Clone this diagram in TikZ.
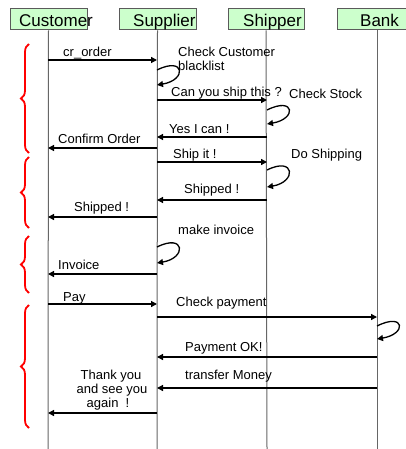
\documentclass[tikz,border=0pt]{standalone}
\usepackage{fontspec}
\setmainfont{Liberation Sans}
\usetikzlibrary{arrows.meta,decorations.pathreplacing,calc}
\definecolor{hdrfill}{RGB}{204,255,204}
\definecolor{hdrline}{RGB}{90,90,90}
\tikzset{
  hdrbox/.style={draw=hdrline,fill=hdrfill,line width=1pt,minimum height=21pt,inner sep=0pt},
  hdrtext/.style={anchor=base west,inner sep=0pt,font=\fontsize{17}{19}\selectfont},
  lifeline/.style={draw=black!60,line width=1pt},
  msg/.style={draw=black,line width=1.3pt,-{Triangle[length=6pt,width=6pt]}},
  lbl/.style={anchor=base west,inner sep=0pt,font=\fontsize{13}{15}\selectfont},
  clbl/.style={anchor=base,inner sep=0pt,font=\fontsize{13}{15}\selectfont},
  grp/.style={draw=red,line width=1.8pt,decorate,decoration={brace,amplitude=8pt}}
}
\begin{document}
\begin{tikzpicture}[x=1pt,y=-1pt]
\useasboundingbox (0,0) rectangle (406,449);
% headers
\node[hdrbox,minimum width=77pt] (custbox) at (48.5,19.5) {};
\node[hdrbox,minimum width=77pt] (suppbox) at (157.5,19.5) {};
\node[hdrbox,minimum width=76pt] (shipbox) at (266,19.5) {};
\node[hdrbox,minimum width=80pt] (bankbox) at (377,19.5) {};
\node[hdrtext] (custtxt) at (19,27) {Customer};
\node[hdrtext] (supptxt) at (133,27) {Supplier};
\node[hdrtext] (shiptxt) at (243,27) {Shipper};
\node[hdrtext] (banktxt) at (360,27) {Bank};
% lifelines
\coordinate (custend) at (48,449);
\coordinate (suppend) at (157,449);
\coordinate (shipend) at (267,449);
\coordinate (bankend) at (377,449);
\draw[lifeline] (custbox.south) -- (custend);
\draw[lifeline] (suppbox.south) -- (suppend);
\draw[lifeline] (shipbox.south) -- (shipend);
\draw[lifeline] (bankbox.south) -- (bankend);
% braces
\coordinate (b1a) at (29,153); \coordinate (b1b) at (29,44);
\coordinate (b2a) at (29,228); \coordinate (b2b) at (29,157);
\coordinate (b3a) at (29,293); \coordinate (b3b) at (29,236);
\coordinate (b4a) at (29,428); \coordinate (b4b) at (29,305);
\draw[grp] (b1a) -- (b1b);
\draw[grp] (b2a) -- (b2b);
\draw[grp] (b3a) -- (b3b);
\draw[grp] (b4a) -- (b4b);
% message end points
\coordinate (c1) at (48,60);   \coordinate (s1) at (157,60);
\coordinate (s2) at (157,100); \coordinate (h2) at (267,100);
\coordinate (h3) at (267,137); \coordinate (s3) at (157,137);
\coordinate (s4) at (157,148); \coordinate (c4) at (48,148);
\coordinate (s5) at (157,162); \coordinate (h5) at (267,162);
\coordinate (h6) at (267,200); \coordinate (s6) at (157,200);
\coordinate (s7) at (157,217); \coordinate (c7) at (48,217);
\coordinate (s8) at (157,274); \coordinate (c8) at (48,274);
\coordinate (c9) at (48,304);  \coordinate (s9) at (157,304);
\coordinate (s10) at (157,317); \coordinate (k10) at (377,317);
\coordinate (k11) at (377,357); \coordinate (s11) at (157,357);
\coordinate (k12) at (377,388); \coordinate (s12) at (157,388);
\coordinate (s13) at (157,413); \coordinate (c13) at (48,413);
\draw[msg] (c1) -- (s1);
\draw[msg] (s2) -- (h2);
\draw[msg] (h3) -- (s3);
\draw[msg] (s4) -- (c4);
\draw[msg] (s5) -- (h5);
\draw[msg] (h6) -- (s6);
\draw[msg] (s7) -- (c7);
\draw[msg] (s8) -- (c8);
\draw[msg] (c9) -- (s9);
\draw[msg] (s10) -- (k10);
\draw[msg] (k11) -- (s11);
\draw[msg] (k12) -- (s12);
\draw[msg] (s13) -- (c13);
% self loops
\coordinate (l1a) at (157,70);  \coordinate (l1b) at (157,85);
\coordinate (l2a) at (267,110); \coordinate (l2b) at (267,124);
\coordinate (l3a) at (267,170); \coordinate (l3b) at (267,187);
\coordinate (l4a) at (157,247); \coordinate (l4b) at (157,263);
\coordinate (l5a) at (377,326); \coordinate (l5b) at (377,339);
\foreach \a/\b in {l1a/l1b,l2a/l2b,l3a/l3b,l4a/l4b,l5a/l5b}{
  \draw[msg] (\a) .. controls ($(\a)+(28,-14)$) and ($(\b)+(30,-5)$) .. (\b);
}
% labels
\node[lbl] (t1) at (63,57) {cr\_order};
\node[lbl] (t2) at (178,57) {Check Customer};
\node[lbl] (t3) at (178,71) {blacklist};
\node[lbl] (t4) at (171,97) {Can you ship this ?};
\node[lbl] (t5) at (289,99) {Check Stock};
\node[lbl] (t6) at (169,134) {Yes I can !};
\node[lbl] (t7) at (58,144) {Confirm Order};
\node[lbl] (t8) at (173,159) {Ship it !};
\node[lbl] (t9) at (291,158) {Do Shipping};
\node[lbl] (t10) at (184,193) {Shipped !};
\node[lbl] (t11) at (74,211) {Shipped !};
\node[lbl] (t12) at (178,234) {make invoice};
\node[lbl] (t13) at (58,269) {Invoice};
\node[lbl] (t14) at (63,301) {Pay};
\node[lbl] (t15) at (176,306) {Check payment};
\node[lbl] (t16) at (185,351) {Payment OK!};
\node[lbl] (t17) at (185,379) {transfer Money};
\node[clbl] (t18) at (111,379) {Thank you};
\node[clbl] (t19) at (112,393) {and see you};
\node[clbl] (t20) at (108,407) {again\ \ !};
\end{tikzpicture}
\end{document}
